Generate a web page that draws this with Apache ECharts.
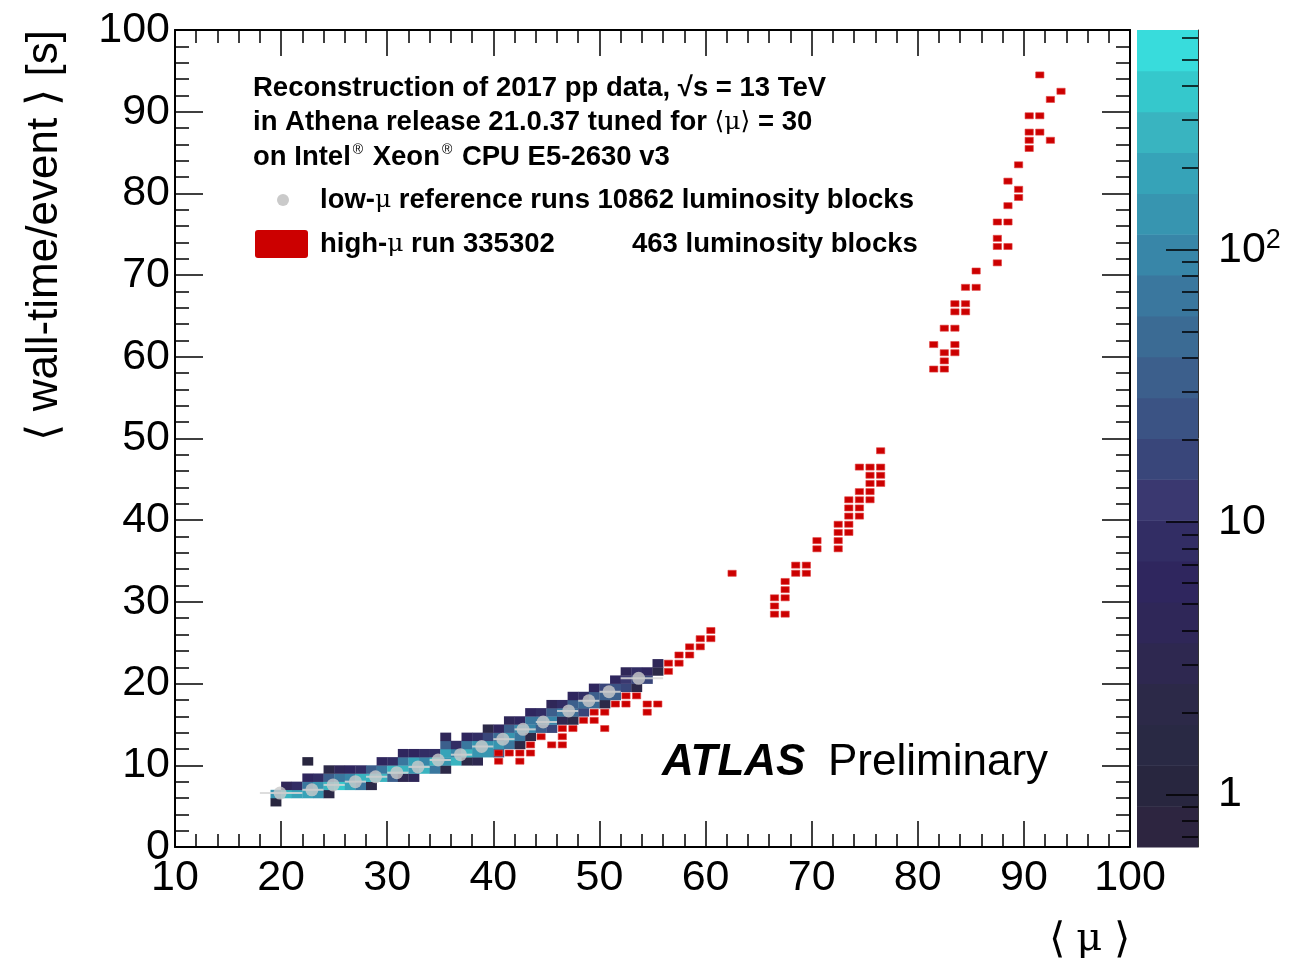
<!DOCTYPE html>
<html><head><meta charset="utf-8">
<script src="https://cdn.jsdelivr.net/npm/echarts@6/dist/echarts.min.js"></script>
<style>html,body{margin:0;padding:0;background:#fff}#c{width:1291px;height:966px}</style>
</head><body><div id="c"></div>
<script>
// ---- data ----
// low-mu reference runs, 2D histogram: [mu bin, first t bin, counts upward]
const lowMuColumns = [
  [19, 5, [1, 150]],
  [20, 6, [300, 4]],
  [21, 6, [200, 8]],
  [22, 6, [200, 60, 6]],
  [23, 6, [150, 120, 8]],
  [24, 6, [2, 250, 40, 2]],
  [25, 7, [350, 60, 4]],
  [26, 7, [200, 100, 6]],
  [27, 7, [60, 300, 10]],
  [28, 7, [2, 300, 40]],
  [29, 8, [250, 80, 6]],
  [30, 8, [30, 300, 8]],
  [31, 8, [3, 250, 60, 6]],
  [32, 8, [4, 150, 200, 6]],
  [33, 9, [250, 100, 8]],
  [34, 9, [60, 300, 10]],
  [35, 9, [2, 150, 200, 30, 4]],
  [36, 10, [250, 100, 8]],
  [37, 10, [2, 250, 60, 6]],
  [38, 10, [3, 150, 120, 8]],
  [39, 11, [120, 150, 20, 2]],
  [40, 11, [40, 150, 50, 6]],
  [41, 12, [80, 120, 30, 5]],
  [42, 12, [2, 80, 100, 6]],
  [43, 13, [2, 100, 60, 6]],
  [44, 14, [40, 80, 8]],
  [45, 14, [20, 100, 40, 5]],
  [46, 15, [3, 60, 8]],
  [47, 15, [2, 50, 40, 6]],
  [48, 16, [20, 50, 8]],
  [49, 17, [50, 30, 6]],
  [50, 17, [2, 40, 20]],
  [51, 18, [30, 25, 6]],
  [52, 19, [20, 12, 5]],
  [53, 19, [2, 20, 8]],
  [54, 20, [15, 6]],
  [55, 21, [2, 5]]
];
const lowMuExtraCells = [[22, 10, 1]];

// high-mu run 335302: occupied [mu bin, t bin]
const highMuCells = [
  [40,10],[40,11],[41,11],[42,10],[42,11],[43,11],[43,12],[44,13],[45,12],[46,12],[46,13],[46,14],
  [47,14],[48,15],[49,15],[49,16],[50,14],[50,16],[51,17],[52,17],[52,18],[53,18],[54,16],[54,17],
  [55,17],[56,21],[56,22],[57,22],[57,23],[58,23],[58,24],[59,24],[59,25],[60,25],[60,26],[62,33],
  [66,28],[66,29],[66,30],[67,28],[67,30],[67,31],[67,32],[68,33],[68,34],[69,33],[69,34],[70,36],
  [70,37],[72,36],[72,37],[72,38],[72,39],[73,38],[73,39],[73,40],[73,41],[73,42],[74,40],[74,41],
  [74,42],[74,43],[74,46],[75,42],[75,43],[75,44],[75,45],[75,46],[76,44],[76,45],[76,46],[76,48],
  [81,58],[81,61],[82,58],[82,59],[82,60],[82,63],[83,60],[83,61],[83,63],[83,65],[83,66],[84,65],
  [84,66],[84,68],[85,68],[85,70],[87,71],[87,73],[87,74],[87,76],[88,73],[88,76],[88,78],[88,81],
  [89,79],[89,80],[89,83],[90,85],[90,86],[90,87],[90,89],[91,87],[91,89],[91,94],[92,86],[92,91],[93,92]
];

// low-mu reference profile
const refMu      = [19.9, 22.9, 24.9, 27.0, 28.9, 30.9, 32.9, 34.8, 36.9, 38.9, 40.9, 42.8, 44.7, 47.1, 49.0, 50.9, 53.7];
const refTime    = [6.6, 7.0, 7.6, 8.0, 8.6, 9.1, 9.8, 10.65, 11.3, 12.3, 13.2, 14.4, 15.3, 16.65, 17.9, 19.0, 20.65];
const refBinLow  = [18, 22, 24, 26, 28, 30, 32, 34, 36, 38, 40, 42, 44, 46, 48, 50, 52];
const refBinHigh = [22, 24, 26, 28, 30, 32, 34, 36, 38, 40, 42, 44, 46, 48, 50, 52, 56];

// colour (z) axis
const zMin = 0.641, zMax = 641, zBands = 20;
const zMajorTicks = [1, 10, 100];
const zMajorLabels = ['1', '10', '10{sup|2}'];
const zMinorTicks = [0.7,0.8,0.9,2,3,4,5,6,7,8,9,20,30,40,50,60,70,80,90,200,300,400,500,600];

// ---- styling ----
const palette = ['#2d2540','#28263f','#292944','#2c2948','#2e2850','#2f2758','#2f265e','#322d64','#3a3870','#39467a',
                 '#3b5384','#3c5f8c','#3b6b94','#3a779e','#3886a8','#3795b0','#36a3b8','#39b4c0','#35c8cc','#38dcdc'];
const lzMin = Math.log10(zMin), lzMax = Math.log10(zMax), bandW = (lzMax - lzMin) / zBands;
function colorFor(c) {
  let k = Math.floor((Math.log10(c) - lzMin) / bandW);
  k = Math.max(0, Math.min(zBands - 1, k));
  return palette[k];
}

const heatCells = [];
lowMuColumns.forEach(([mu, t0, counts]) => counts.forEach((c, i) => heatCells.push([mu, t0 + i, c])));
lowMuExtraCells.forEach(c => heatCells.push(c));

const refData = refMu.map((m, i) => [m, refTime[i], refBinLow[i], refBinHigh[i]]);
const bandData = palette.map((_, k) => [k]);

const FONT = '"Liberation Sans", Arial, Helvetica, sans-serif';
const SERIF = '"DejaVu Serif", "Liberation Serif", serif';
const tickStyle = {color: '#000', width: 1.5};

const chart = echarts.init(document.getElementById('c'), null, {renderer: 'canvas'});

const mainXAxis = (pos, showLabel) => ({
  type: 'value', gridIndex: 0, position: pos, min: 10, max: 100, interval: 10, z: 10,
  axisLine: {show: true, onZero: false, lineStyle: {color: '#000', width: 2}},
  axisTick: {show: true, inside: true, length: 26, lineStyle: tickStyle},
  minorTick: {show: true, splitNumber: 5, length: 13, lineStyle: tickStyle},
  splitLine: {show: false}, minorSplitLine: {show: false},
  axisLabel: {show: showLabel, fontFamily: FONT, fontSize: 43, color: '#000', margin: 10, showMaxLabel: true, showMinLabel: true}
});
const mainYAxis = (pos, showLabel) => ({
  type: 'value', gridIndex: 0, position: pos, min: 0, max: 100, interval: 10, z: 10,
  axisLine: {show: true, onZero: false, lineStyle: {color: '#000', width: 2}},
  axisTick: {show: true, inside: true, length: 28, lineStyle: tickStyle},
  minorTick: {show: true, splitNumber: 5, length: 14, lineStyle: tickStyle},
  splitLine: {show: false}, minorSplitLine: {show: false},
  axisLabel: {show: showLabel, fontFamily: FONT, fontSize: 43, color: '#000', margin: 5}
});

const option = {
  animation: false,
  backgroundColor: '#fff',
  grid: [
    {left: 175, right: 161, top: 30, bottom: 119},
    {left: 1137, right: 93, top: 30, bottom: 119}
  ],
  xAxis: [
    mainXAxis('bottom', true),
    mainXAxis('top', false),
    {type: 'value', gridIndex: 1, min: 0, max: 1, show: false}
  ],
  yAxis: [
    mainYAxis('left', true),
    mainYAxis('right', false),
    {
      type: 'value', gridIndex: 1, position: 'right', min: lzMin, max: lzMax, z: 10,
      axisLine: {show: true, onZero: false, lineStyle: {color: '#333', width: 1}},
      axisTick: {show: true, inside: true, length: 32, lineStyle: {color: '#000', width: 1.5},
                 customValues: zMajorTicks.map(Math.log10)},
      axisLabel: {show: true, inside: false, margin: 20, fontFamily: FONT, fontSize: 43, color: '#000',
                  customValues: zMajorTicks.map(Math.log10),
                  formatter: v => zMajorLabels[Math.round(v)],
                  rich: {sup: {fontFamily: FONT, fontSize: 27, color: '#000', verticalAlign: 'top', padding: [0, 0, 18, 0]}}},
      splitLine: {show: false}
    },
    {
      type: 'value', gridIndex: 1, position: 'right', min: lzMin, max: lzMax, z: 10,
      axisLine: {show: false, onZero: false},
      axisTick: {show: true, inside: true, length: 16, lineStyle: {color: '#000', width: 1.5},
                 customValues: zMinorTicks.map(Math.log10)},
      axisLabel: {show: false},
      splitLine: {show: false}
    }
  ],
  series: [
    {
      type: 'custom', name: 'colorbar', xAxisIndex: 2, yAxisIndex: 2, data: bandData, z: 1,
      renderItem: (params, api) => {
        const k = api.value(0);
        const y0 = lzMin + k * bandW;
        const p0 = api.coord([0, y0 + bandW]);
        const p1 = api.coord([1, y0]);
        return {type: 'rect', shape: {x: p0[0], y: p0[1], width: p1[0] - p0[0], height: p1[1] - p0[1] + 0.5},
                style: {fill: palette[k]}};
      }
    },
    {
      type: 'custom', name: 'low-mu 2D', xAxisIndex: 0, yAxisIndex: 0, data: heatCells, z: 2,
      encode: {x: 0, y: 1},
      renderItem: (params, api) => {
        const mu = api.value(0), t = api.value(1), c = api.value(2);
        const p0 = api.coord([mu, t + 1]);
        const p1 = api.coord([mu + 1, t]);
        return {type: 'rect', shape: {x: p0[0], y: p0[1], width: p1[0] - p0[0] + 0.3, height: p1[1] - p0[1] + 0.3},
                style: {fill: colorFor(c)}};
      }
    },
    {
      type: 'custom', name: 'high-mu', xAxisIndex: 0, yAxisIndex: 0, data: highMuCells, z: 3,
      encode: {x: 0, y: 1},
      renderItem: (params, api) => {
        const mu = api.value(0), t = api.value(1);
        const c = api.coord([mu + 0.5, t + 0.5]);
        const s = api.size([1, 1]);
        const w = s[0] * 0.78, h = s[1] * 0.74;
        return {type: 'rect', shape: {x: c[0] - w / 2, y: c[1] - h / 2, width: w, height: h},
                style: {fill: '#cc0000', stroke: '#e04040', lineWidth: 0.6}};
      }
    },
    {
      type: 'custom', name: 'ref err', xAxisIndex: 0, yAxisIndex: 0, data: refData, z: 4,
      encode: {x: 0, y: 1},
      renderItem: (params, api) => {
        const a = api.coord([api.value(2), api.value(1)]);
        const b = api.coord([api.value(3), api.value(1)]);
        return {type: 'line', shape: {x1: a[0], y1: a[1], x2: b[0], y2: b[1]},
                style: {stroke: 'rgba(215,215,215,0.85)', lineWidth: 2}};
      }
    },
    {
      type: 'scatter', name: 'low-mu ref', xAxisIndex: 0, yAxisIndex: 0, z: 5,
      data: refData.map(d => [d[0], d[1]]), symbol: 'circle', symbolSize: 13,
      itemStyle: {color: '#cacaca'}
    }
  ],
  graphic: [
    {type: 'text', x: 253, y: 88, style: {text: 'Reconstruction of 2017 pp data, √s = 13 TeV',
      font: 'bold 27.5px ' + FONT, fill: '#000', verticalAlign: 'middle'}},
    {type: 'text', x: 253, y: 122, style: {text: 'in Athena release 21.0.37 tuned for {m|⟨μ⟩} = 30',
      font: 'bold 27.5px ' + FONT, fill: '#000', verticalAlign: 'middle',
      rich: {m: {fontFamily: SERIF, fontSize: 25, fill: '#000'}}}},
    {type: 'text', x: 253, y: 157, style: {text: 'on Intel{s|®} Xeon{s|®} CPU E5-2630 v3',
      font: 'bold 27.5px ' + FONT, fill: '#000', verticalAlign: 'middle',
      rich: {s: {fontFamily: FONT, fontSize: 14, fill: '#000', verticalAlign: 'top', padding: [0, 2, 14, 2]}}}},
    {type: 'circle', shape: {cx: 283, cy: 200, r: 6}, style: {fill: '#cacaca'}},
    {type: 'text', x: 320, y: 200, style: {text: 'low-{m|μ} reference runs 10862 luminosity blocks',
      font: 'bold 27.5px ' + FONT, fill: '#000', verticalAlign: 'middle',
      rich: {m: {fontFamily: SERIF, fontSize: 25, fill: '#000'}}}},
    {type: 'rect', shape: {x: 255, y: 230, width: 53, height: 28, r: 3}, style: {fill: '#cc0000'}},
    {type: 'text', x: 320, y: 244, style: {text: 'high-{m|μ} run 335302',
      font: 'bold 27.5px ' + FONT, fill: '#000', verticalAlign: 'middle',
      rich: {m: {fontFamily: SERIF, fontSize: 25, fill: '#000'}}}},
    {type: 'text', x: 632, y: 244, style: {text: '463 luminosity blocks',
      font: 'bold 27.5px ' + FONT, fill: '#000', verticalAlign: 'middle'}},
    {type: 'text', x: 662, y: 763, style: {text: 'ATLAS',
      font: 'italic bold 44px ' + FONT, fill: '#000', verticalAlign: 'middle'}},
    {type: 'text', x: 828, y: 763, style: {text: 'Preliminary',
      font: '44px ' + FONT, fill: '#000', verticalAlign: 'middle'}},
    {type: 'text', x: 45, y: 30, rotation: Math.PI / 2, style: {text: '⟨ wall-time/event ⟩ [s]',
      font: '44px ' + FONT, fill: '#000', align: 'right', verticalAlign: 'middle'}},
    {type: 'text', x: 1130, y: 940, style: {text: '⟨ {m|μ} ⟩',
      font: '42px ' + FONT, fill: '#000', align: 'right', verticalAlign: 'middle',
      rich: {m: {fontFamily: SERIF, fontSize: 40, fill: '#000'}}}}
  ]
};
chart.setOption(option);
</script>
</body></html>
